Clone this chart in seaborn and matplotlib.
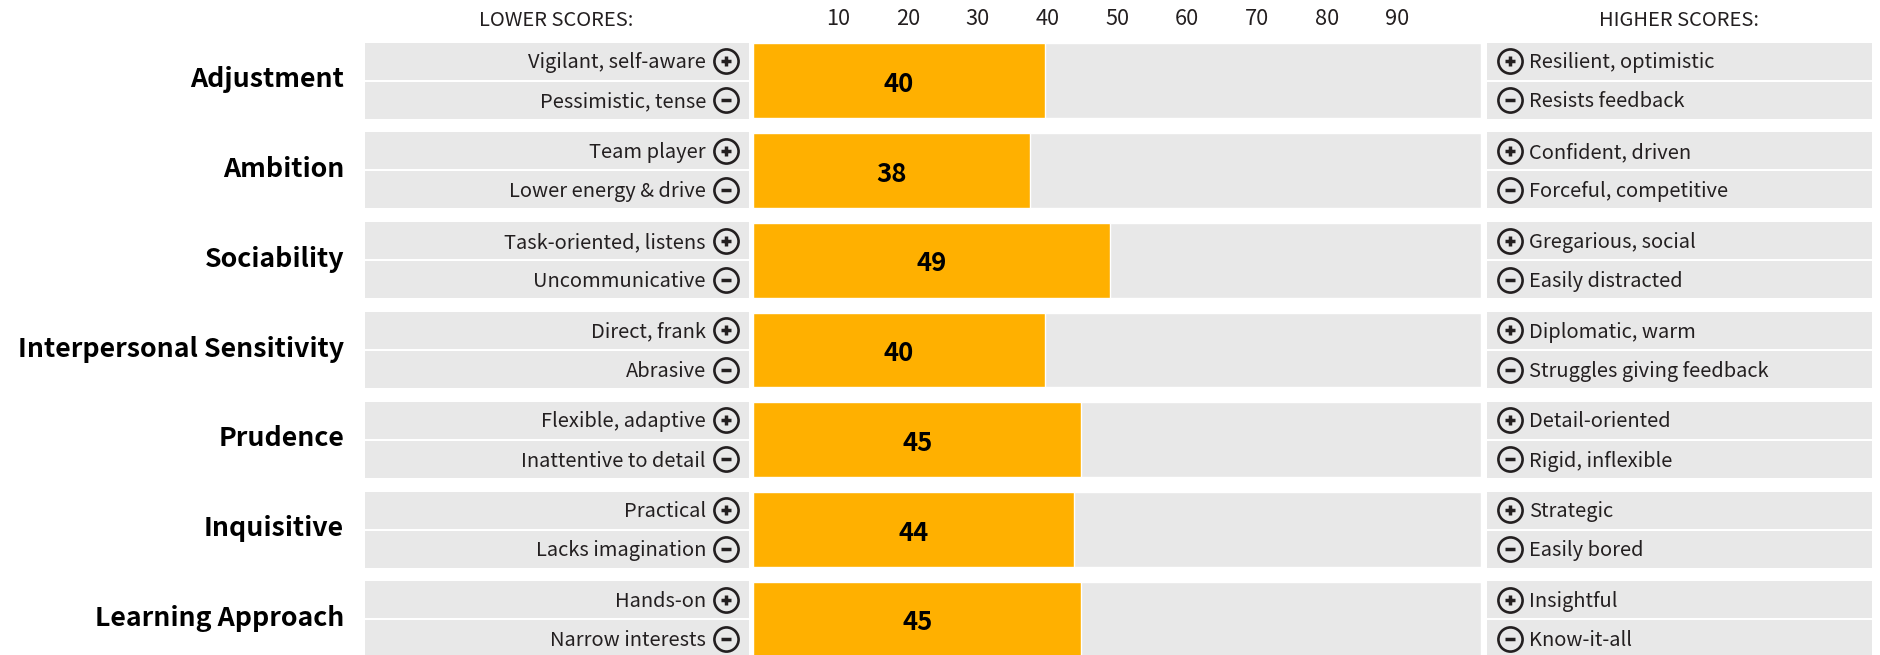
import matplotlib
matplotlib.use("Agg")
import matplotlib.pyplot as plt
import pandas as pd
import seaborn as sns

traits = ["Adjustment", "Ambition", "Sociability", "Interpersonal Sensitivity",
          "Prudence", "Inquisitive", "Learning Approach"]
scores = [40, 38, 49, 40, 45, 44, 45]
lower_plus = ["Vigilant, self-aware", "Team player", "Task-oriented, listens", "Direct, frank",
              "Flexible, adaptive", "Practical", "Hands-on"]
lower_minus = ["Pessimistic, tense", "Lower energy & drive", "Uncommunicative", "Abrasive",
               "Inattentive to detail", "Lacks imagination", "Narrow interests"]
higher_plus = ["Resilient, optimistic", "Confident, driven", "Gregarious, social", "Diplomatic, warm",
               "Detail-oriented", "Strategic", "Insightful"]
higher_minus = ["Resists feedback", "Forceful, competitive", "Easily distracted", "Struggles giving feedback",
                "Rigid, inflexible", "Easily bored", "Know-it-all"]
score_ticks = [10, 20, 30, 40, 50, 60, 70, 80, 90]

W, H = 1881, 655
GREY = "#e8e8e8"
ORANGE = "#ffb000"
INK = "#231f20"
ROW = 89.8
FIRST = 80.6
TOP = 36

sns.set_theme(style="white")
plt.rcParams["font.family"] = ["Noto Sans CJK JP", "DejaVu Sans"]


def px_axes(fig, x0, x1):
    return fig.add_axes([x0 / W, 0, (x1 - x0) / W, (H - TOP) / H])


def row_limits(ax):
    ax.set_ylim((H - FIRST) / ROW, (TOP - FIRST) / ROW)
    sns.despine(ax=ax, left=True, bottom=True)
    ax.set_xlabel("")
    ax.set_ylabel("")
    ax.patch.set_alpha(0)


def side_panel(ax, plus, minus, side):
    for i in range(len(traits)):
        ax.barh([i - 0.2175, i + 0.2175], [1, 1], height=0.412, color=GREY, linewidth=0)
    ax.set_xlim(0, 1)
    row_limits(ax)
    ax.set_xticks([])
    ax.set_yticks([])
    if side == "left":
        ix, tx, ha = (726 - 365) / 384, (706 - 365) / 384, "right"
    else:
        ix, tx, ha = (1510 - 1487) / 385, (1529 - 1487) / 385, "left"
    for i in range(len(traits)):
        for lab, dy, mark in ((plus[i], -0.2175, "+"), (minus[i], 0.2175, "_")):
            ax.plot(ix, i + dy, marker="o", ms=17.4, mfc="none", mec=INK, mew=1.9)
            ax.plot(ix, i + dy, marker=mark, ms=7.8, mec=INK, mew=2.5)
            ax.text(tx, i + dy + 0.019, lab, ha=ha, va="center", fontsize=14.45, color=INK)


fig = plt.figure(figsize=(W / 100, H / 100), dpi=100)

ax_l = px_axes(fig, 365, 749)
side_panel(ax_l, lower_plus, lower_minus, "left")
for i, trait in enumerate(traits):
    ax_l.annotate(trait, xy=(0, i), xycoords=ax_l.get_yaxis_transform(), xytext=(-15, 0.7),
                  textcoords="offset points", ha="right", va="center", fontsize=19.25,
                  fontweight="bold", color="black")
ax_l.set_title("LOWER SCORES:", fontsize=14.5, color=INK, pad=7, x=0.498)

ax_r = px_axes(fig, 1487, 1872)
side_panel(ax_r, higher_plus, higher_minus, "right")
ax_r.set_title("HIGHER SCORES:", fontsize=14.5, color=INK, pad=7, x=0.498)

df = pd.DataFrame({"trait": traits, "score": scores, "full": [100] * len(traits)})
ax_c = px_axes(fig, 753.5, 1481.5)
sns.barplot(data=df, y="trait", x="full", orient="h", color=GREY, saturation=1,
            width=0.835, ax=ax_c)
sns.barplot(data=df, y="trait", x="score", orient="h", color=ORANGE, saturation=1,
            width=0.835, ax=ax_c)
labels = ax_c.bar_label(ax_c.containers[1], fmt="%d", label_type="center", fontsize=18.5,
                        fontweight="bold", color="black")
for lab in labels:
    lab.xyann = (0, -2.6)
ax_c.set_xlim(0, 100)
row_limits(ax_c)
ax_c.set_yticks([])
ax_c.set_xticks([])

ax_t = ax_c.twiny()
ax_t.set_xlim(-2.1, 102.1)
ax_t.set_xticks(score_ticks)
ax_t.tick_params(axis="x", length=0, pad=4.3, labelsize=15.7, labelcolor=INK)
sns.despine(ax=ax_t, left=True, bottom=True, top=True)

fig.savefig("out.png", dpi=100)
